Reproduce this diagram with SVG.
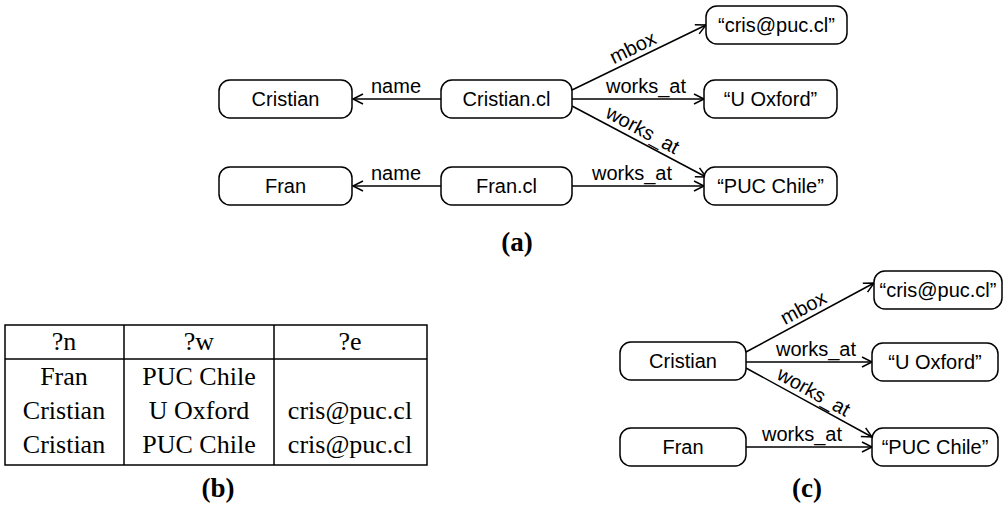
<svg xmlns="http://www.w3.org/2000/svg" width="1004" height="505" viewBox="0 0 1004 505">
<defs>
<marker id="arr" markerUnits="userSpaceOnUse" markerWidth="14" markerHeight="14" refX="11" refY="6" orient="auto">
<path d="M1,1 L11,6 L1,11" fill="none" stroke="#000" stroke-width="1.5"/>
</marker>
<style>
.node rect{fill:#fff;stroke:#000;stroke-width:1.5}
.node text{font-family:"Liberation Sans",Arial,sans-serif;font-size:20px;text-anchor:middle;fill:#000}
.edge line{stroke:#000;stroke-width:1.5;marker-end:url(#arr)}
.lbl{font-family:"Liberation Sans",Arial,sans-serif;font-size:20px;text-anchor:middle;fill:#000}
.cap{font-family:"Liberation Serif","Times New Roman",serif;font-size:27px;font-weight:bold;text-anchor:middle;fill:#000}
.tb{font-family:"Liberation Serif","Times New Roman",serif;font-size:26px;text-anchor:middle;fill:#000}
.grid{stroke:#000;stroke-width:1.5;fill:none}
</style>
</defs>
<rect width="1004" height="505" fill="#fff"/>

<g id="connectors">
<g class="edge">
<line x1="441" y1="99" x2="353" y2="99"/>
<line x1="572" y1="90" x2="706" y2="25"/>
<line x1="572" y1="99" x2="704" y2="99"/>
<line x1="572" y1="106" x2="706" y2="177"/>
<line x1="441" y1="186" x2="353" y2="186"/>
<line x1="572" y1="186" x2="704" y2="186"/>
<line x1="746" y1="352" x2="874" y2="283"/>
<line x1="746" y1="362" x2="872" y2="362"/>
<line x1="746" y1="368" x2="872" y2="437"/>
<line x1="746" y1="447" x2="872" y2="447"/>
</g>
<text class="lbl" x="396" y="93">name</text>
<text class="lbl" transform="translate(638,58) rotate(-25.9)" x="0" y="-5">mbox</text>
<text class="lbl" x="646" y="93">works_at</text>
<text class="lbl" transform="translate(637,140) rotate(28.3)" x="0" y="-5">works_at</text>
<text class="lbl" x="396" y="180">name</text>
<text class="lbl" x="632" y="180">works_at</text>
<text class="lbl" transform="translate(809,318) rotate(-28.3)" x="0" y="-5">mbox</text>
<text class="lbl" x="816" y="356">works_at</text>
<text class="lbl" transform="translate(808,402) rotate(29)" x="0" y="-5">works_at</text>
<text class="lbl" x="802" y="441">works_at</text>
</g>

<g id="a-cristian" class="node"><rect x="219" y="80" width="133" height="38" rx="11"/><text x="285.5" y="106">Cristian</text></g>
<g id="a-cristian-cl" class="node"><rect x="441" y="80" width="131" height="38" rx="11"/><text x="506.5" y="106">Cristian.cl</text></g>
<g id="a-cris-mail" class="node"><rect x="706" y="6" width="141" height="38" rx="11"/><text x="776.5" y="32">“cris@puc.cl”</text></g>
<g id="a-oxford" class="node"><rect x="704" y="80" width="133" height="38" rx="11"/><text x="770.5" y="106">“U Oxford”</text></g>
<g id="a-fran" class="node"><rect x="219" y="167" width="133" height="38" rx="11"/><text x="285.5" y="193">Fran</text></g>
<g id="a-fran-cl" class="node"><rect x="441" y="167" width="131" height="38" rx="11"/><text x="506.5" y="193">Fran.cl</text></g>
<g id="a-puc" class="node"><rect x="704" y="167" width="133" height="38" rx="11"/><text x="770.5" y="193">“PUC Chile”</text></g>

<g id="c-cristian" class="node"><rect x="620" y="342" width="126" height="38" rx="11"/><text x="683" y="368">Cristian</text></g>
<g id="c-fran" class="node"><rect x="620" y="428" width="126" height="38" rx="11"/><text x="683" y="454">Fran</text></g>
<g id="c-cris-mail" class="node"><rect x="874" y="271" width="128" height="38" rx="11"/><text x="938" y="297">“cris@puc.cl”</text></g>
<g id="c-oxford" class="node"><rect x="872" y="343" width="126" height="38" rx="11"/><text x="935" y="369">“U Oxford”</text></g>
<g id="c-puc" class="node"><rect x="872" y="428" width="126" height="38" rx="11"/><text x="935" y="454">“PUC Chile”</text></g>

<g id="table-b">
<rect class="grid" x="5" y="325" width="422" height="140"/>
<line class="grid" x1="5" y1="359" x2="427" y2="359"/>
<line class="grid" x1="124" y1="325" x2="124" y2="465"/>
<line class="grid" x1="274" y1="325" x2="274" y2="465"/>
<text class="tb" x="64" y="350">?n</text>
<text class="tb" x="199" y="350">?w</text>
<text class="tb" x="350" y="350">?e</text>
<text class="tb" x="64" y="385">Fran</text>
<text class="tb" x="199" y="385">PUC Chile</text>
<text class="tb" x="64" y="419">Cristian</text>
<text class="tb" x="199" y="419">U Oxford</text>
<text class="tb" x="350" y="419">cris@puc.cl</text>
<text class="tb" x="64" y="453">Cristian</text>
<text class="tb" x="199" y="453">PUC Chile</text>
<text class="tb" x="350" y="453">cris@puc.cl</text>
</g>

<text class="cap" x="517" y="251">(a)</text>
<text class="cap" x="218" y="497">(b)</text>
<text class="cap" x="807" y="497">(c)</text>
</svg>
